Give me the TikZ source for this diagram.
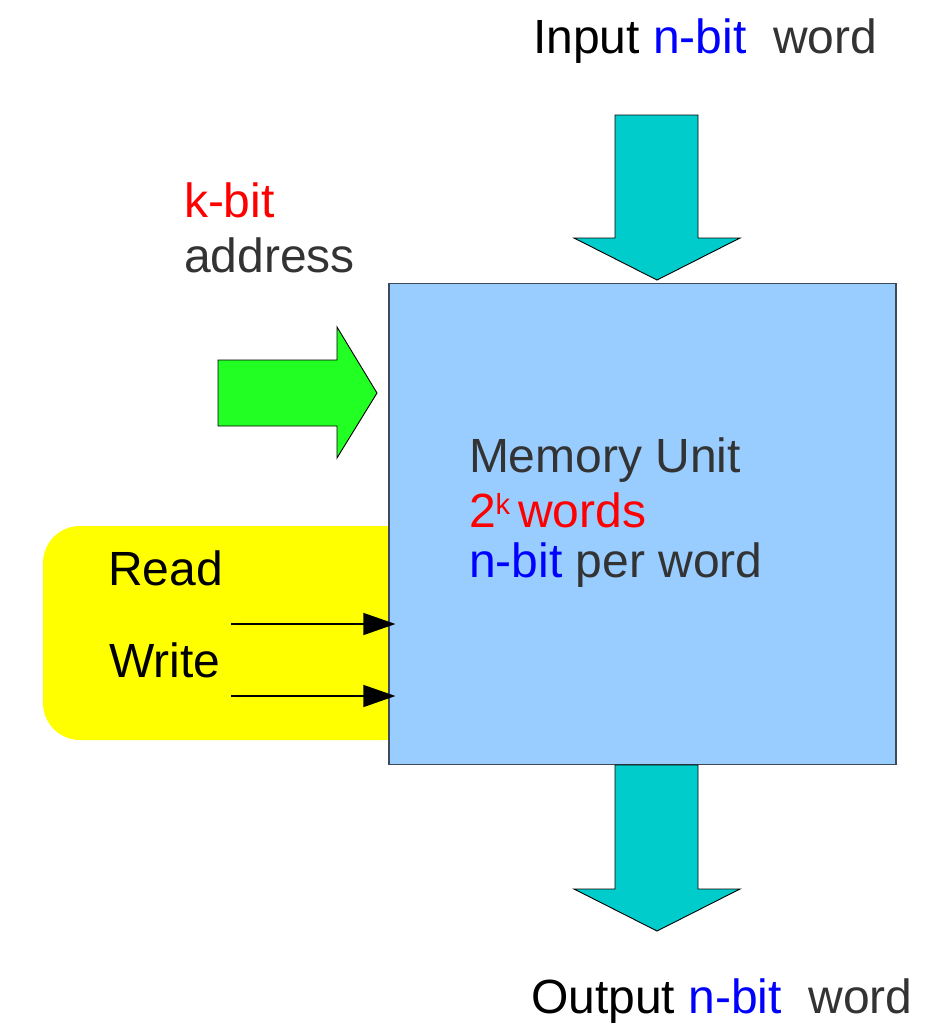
\documentclass[tikz,border=0pt]{standalone}
\usepackage{fontspec}
\setmainfont{Liberation Sans}
\usetikzlibrary{arrows.meta}
\definecolor{txtgray}{HTML}{333333}
\definecolor{memblue}{HTML}{99CCFF}
\definecolor{memline}{HTML}{3C4A5A}
\definecolor{cyanfill}{HTML}{00CCCC}
\definecolor{greenfill}{HTML}{22FF22}
\definecolor{yellowfill}{HTML}{FFFF00}
\definecolor{bitblue}{HTML}{0000FF}
\definecolor{bitred}{HTML}{FF0000}
\tikzset{
  lbl/.style={anchor=base west, inner sep=0pt, outer sep=0pt, font=\fontsize{48}{58}\selectfont},
  blockarrow/.style={draw=black, line width=0.9pt, line join=miter},
  membox/.style={draw=memline, line width=1.2pt, fill=memblue, inner sep=0pt, minimum width=507pt, minimum height=481pt},
  ctrlbox/.style={fill=yellowfill, rounded corners=37pt},
  ctrlarrow/.style={line width=1.3pt, -{Triangle[length=32pt,width=22pt]}},
}
\begin{document}
\begin{tikzpicture}[x=1pt,y=-1pt]
\useasboundingbox (0,0) rectangle (950,1026);
% control box (behind memory unit)
\fill[ctrlbox] (43,526) rectangle (420,740);
% memory unit
\node[membox] (mem) at (642.5,524) {};
% texts in memory unit
\node[lbl, text=txtgray] (memt1) at (469,472) {Memory Unit};
\node[lbl, text=bitred] (memt2) at (469,527) {2{\fontsize{29}{29}\selectfont\raisebox{13pt}{k}}\,words};
\node[lbl] (memt3) at (469,577) {\textcolor{bitblue}{n-bit} \textcolor{txtgray}{per word}};
% top input arrow
\draw[blockarrow, fill=cyanfill] (615,115) -- (698,115) -- (698,238) -- (740,238) -- (657,280) -- (574,238) -- (615,238) -- cycle;
% bottom output arrow
\draw[blockarrow, fill=cyanfill] (615,765) -- (698,765) -- (698,889) -- (740,889) -- (657,931) -- (574,889) -- (615,889) -- cycle;
% green address arrow
\draw[blockarrow, fill=greenfill] (218,360) -- (337,360) -- (337,327) -- (377,393) -- (337,458) -- (337,426) -- (218,426) -- cycle;
% labels
\node[lbl, text=black] (inlbl) at (533,53) {Input \textcolor{bitblue}{n-bit}\ \ \textcolor{txtgray}{word}};
\node[lbl, text=black] (outlbl) at (531,1013) {Output \textcolor{bitblue}{n-bit}\ \ \textcolor{txtgray}{word}};
\node[lbl, text=bitred] (kbit) at (184,217) {k-bit};
\node[lbl, text=txtgray] (addr) at (184,272) {address};
\node[lbl, text=black] (rd) at (108,585) {Read};
\node[lbl, text=black] (wr) at (109,677) {Write};
% read / write arrows
\coordinate (rs) at (231,624);
\coordinate (ws) at (231,696);
\draw[ctrlarrow, shorten >=-7pt] (rs) -- (rs -| mem.west);
\draw[ctrlarrow, shorten >=-7pt] (ws) -- (ws -| mem.west);
\end{tikzpicture}
\end{document}
